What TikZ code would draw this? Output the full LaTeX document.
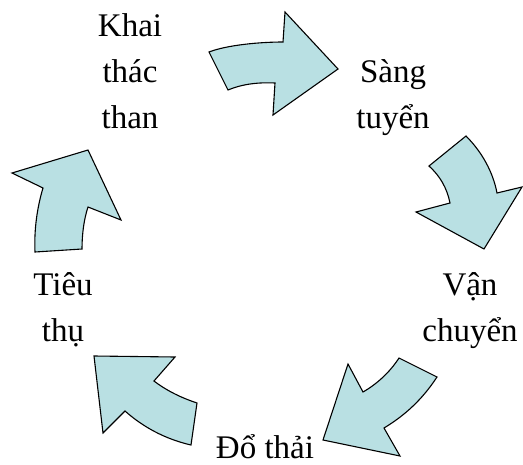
\documentclass[tikz,border=0pt]{standalone}
\usepackage{fontspec}
\setmainfont{Liberation Serif}
\definecolor{arrowfill}{HTML}{B9E0E3}
\tikzset{
	stage/.style={font=\fontsize{33}{46}\selectfont, align=center, inner sep=0pt, anchor=base},
	blockarrow/.style={fill=arrowfill, draw=black, line width=1.1pt, line join=miter}
}
\begin{document}
\begin{tikzpicture}[x=1pt,y=-1pt]

	\useasboundingbox (0,0) rectangle (523,464);

	%labels (base = last line)
	\node[stage] (khai) at (130,128) {Khai\\thác\\than}; %khai thac
	\node[stage] (sang) at (393,128) {Sàng\\tuyển}; %sang tuyen
	\node[stage] (van) at (470,341) {Vận\\chuyển}; %van chuyen
	\node[stage] (do) at (265,458) {Đổ thải}; %do thai
	\node[stage] (tieu) at (63,341) {Tiêu\\thụ}; %tieu thu

	%arrows
	\draw[blockarrow] (209,52) .. controls (227,45) and (260,42) .. (283,42) -- (285,12) -- (338,69) -- (273,115) -- (275,83) .. controls (255,82) and (240,85) .. (228,90) -- cycle; %khai -> sang
	\draw[blockarrow] (429,166) -- (466,136) .. controls (482,152) and (493,172) .. (497,193) -- (522,187) -- (484,249) -- (416,212) -- (450,203) .. controls (447,188) and (440,176) .. (429,166) -- cycle; %sang -> van
	\draw[blockarrow] (399,358) -- (437,377) .. controls (422,400) and (404,416) .. (384,428) -- (400,456) -- (323,440) -- (348,364) -- (363,392) .. controls (377,384) and (390,372) .. (399,358) -- cycle; %van -> do
	\draw[blockarrow] (94,356) -- (175,357) -- (154,381) .. controls (167,391) and (182,398) .. (197,403) -- (191,445) .. controls (165,439) and (143,427) .. (125,411) -- (103,433) -- cycle; %do -> tieu
	\draw[blockarrow] (12,173) -- (88,150) -- (121,220) -- (88,207) .. controls (84,219) and (82,234) .. (82,249) -- (35,252) .. controls (34,230) and (37,208) .. (43,188) -- cycle; %tieu -> khai
\end{tikzpicture}
\end{document}
